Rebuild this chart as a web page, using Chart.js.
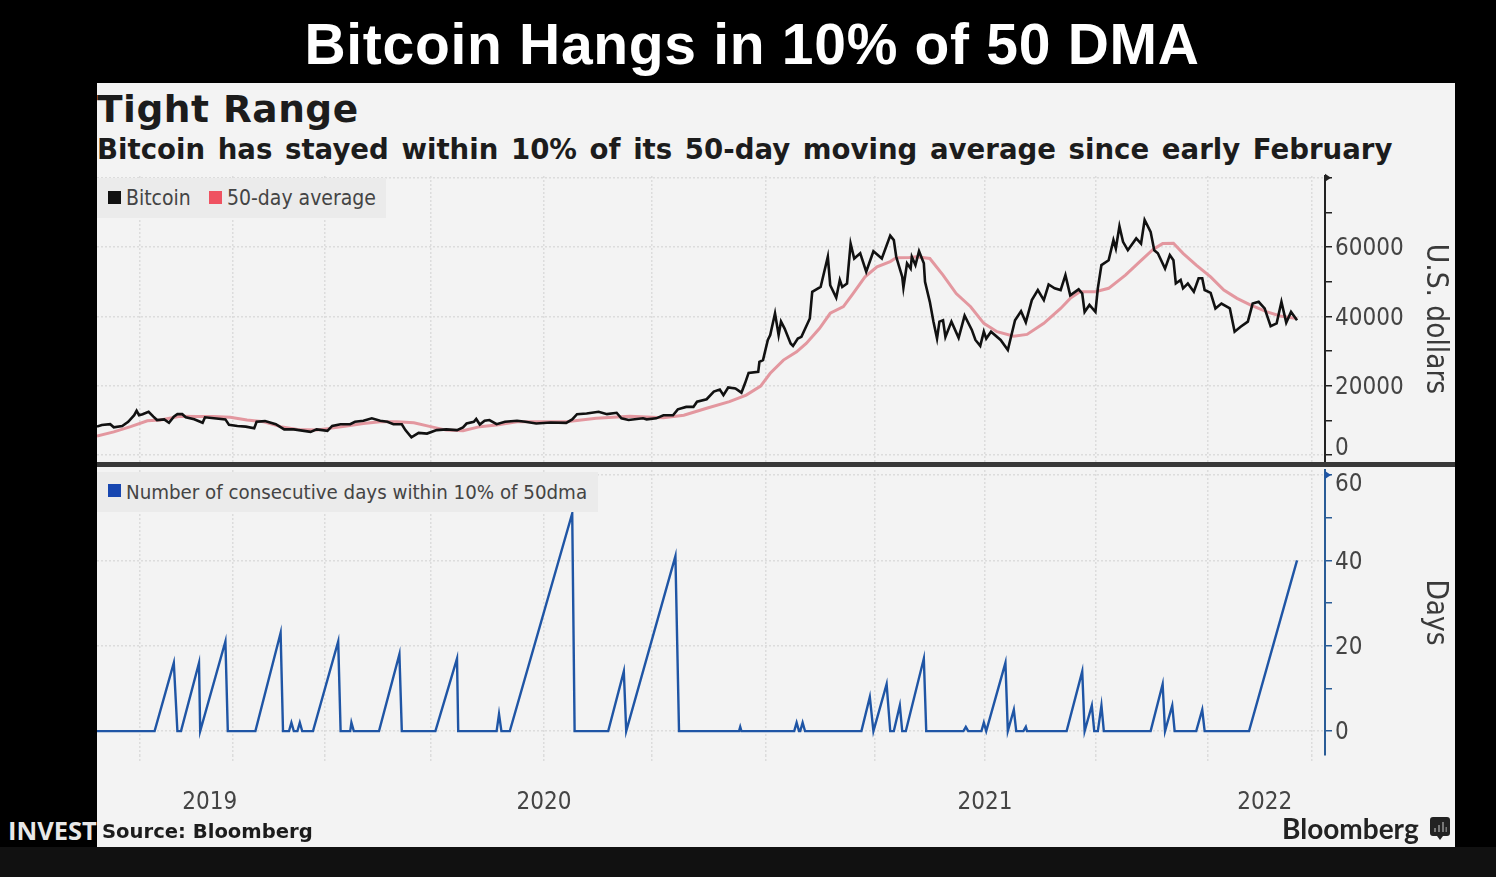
<!DOCTYPE html>
<html>
<head>
<meta charset="utf-8">
<title>Bitcoin Hangs in 10% of 50 DMA</title>
<script src="https://cdn.jsdelivr.net/npm/chart.js@4"></script>
<style>
  html, body { margin:0; padding:0; background:#000; width:1496px; height:877px; overflow:hidden; }
  .txt { position:absolute; white-space:nowrap; line-height:1; }
  .cond { font-family:"DejaVu Sans Condensed","DejaVu Sans",sans-serif; color:#444; }
  .heavy { font-family:"DejaVu Sans",sans-serif; font-weight:bold; color:#1c1c1c; }
  #strip { position:absolute; left:0; top:847px; width:1496px; height:30px; background:#111; }
  #panel { position:absolute; left:97px; top:83px; width:1358px; height:764px; background:#f3f3f3; }
  canvas { position:absolute; left:97px; }
  .legbox { position:absolute; left:97px; background:#ebebeb; }
  .sq { position:absolute; width:13px; height:13px; }
  #sep { position:absolute; left:97px; top:462px; width:1358px; height:5px; background:#383838; }
</style>
</head>
<body>
<div class="txt" style="left:8px;top:813px;font:bold 25.5px 'Open Sans',sans-serif;color:#e8e8e8">INVEST</div>
<div id="strip"></div>
<div id="panel"></div>
<div class="txt" id="mainTitle" style="left:752px;top:11px;transform:translateX(-50%);font:bold 57px 'Liberation Sans',sans-serif;letter-spacing:0.7px;color:#fff">Bitcoin Hangs in 10% of 50 DMA</div>
<div class="txt heavy" style="left:97px;top:91px;font-size:37.5px;letter-spacing:0.5px">Tight Range</div>
<div class="txt heavy" style="left:97px;top:135.5px;font-size:27.6px;word-spacing:3px">Bitcoin has stayed within 10% of its 50-day moving average since early February</div>

<canvas id="priceChart" width="1358" height="296" style="top:170px"></canvas>
<canvas id="runChart" width="1358" height="385" style="top:462px"></canvas>
<div id="sep"></div>

<div class="legbox" style="top:178px;width:289px;height:40px"></div>
<div class="sq" style="left:108px;top:191px;background:#111"></div>
<div class="txt cond" style="left:126px;top:188px;font-size:21px">Bitcoin</div>
<div class="sq" style="left:209px;top:191px;background:#ef5261"></div>
<div class="txt cond" style="left:227px;top:188px;font-size:21px">50-day average</div>

<div class="legbox" style="top:472px;width:501px;height:40px"></div>
<div class="sq" style="left:108px;top:484px;background:#1746b0"></div>
<div class="txt cond" style="left:126px;top:482px;font-size:20.3px">Number of consecutive days within 10% of 50dma</div>

<div class="txt heavy" style="left:102px;top:822px;font-size:19.6px">Source: Bloomberg</div>
<div class="txt" style="left:1282px;top:811px;font:bold 28px 'Lato',sans-serif;color:#222">Bloomberg</div>
<svg style="position:absolute;left:1430px;top:817px" width="20" height="23" viewBox="0 0 20 23">
  <path d="M3 0H17A3 3 0 0 1 20 3V16A3 3 0 0 1 17 19H13L10 23L7 19H3A3 3 0 0 1 0 16V3A3 3 0 0 1 3 0Z" fill="#222"/>
  <path d="M4 15V11H6V15ZM8 15V8H10V15ZM12 15V5H14V15ZM15.5 15V10H17V15Z" fill="#777"/>
</svg>

<script>
// days counted from the left edge of the chart
const btcDay = [
  0,4,11,14,21,26,31,33,35,38,
  43,47,50,56,60,64,67,71,74,81,
  88,90,107,110,117,124,131,133,140,149,
  156,164,178,183,192,196,203,211,215,222,
  229,236,242,247,254,257,262,268,275,283,
  291,300,305,308,314,316,319,323,327,333,
  340,350,357,366,378,391,396,400,408,418,
  425,433,437,443,455,458,466,472,480,484,
  491,497,500,508,514,519,522,526,532,537,
  540,543,551,552,555,559,561,565,568,570,
  573,578,580,584,587,594,596,603,609,611,
  616,619,621,625,627,628,631,636,641,647,
  654,661,664,666,671,672,675,678,679,682,
  685,689,690,694,697,700,702,705,707,712,
  718,723,729,732,736,739,741,745,753,759,
  765,770,774,779,784,789,793,798,803,807,
  811,818,821,823,827,832,834,837,843,847,
  849,852,855,859,866,870,873,878,881,884,
  890,894,897,899,903,905,909,914,918,921,
  923,928,932,937,944,948,953,959,963,968,
  973,978,983,987,991,995,1000];
const btcPrice = [
  8200,8700,8900,8000,8400,9600,11500,12800,11500,11800,
  12500,11100,10100,10300,9300,11100,11800,11800,10900,10300,
  9300,10900,10300,8700,8400,8200,7700,9600,9800,8900,
  7400,7400,6700,7400,7000,8400,8900,8900,9600,9900,
  10600,9900,9600,8900,8900,7200,5100,6400,6200,7200,
  7400,7200,8000,9100,9600,10400,8800,9900,10100,8900,
  9600,9900,9600,9100,9400,9300,10300,11800,12000,12500,
  11800,12200,10600,10100,10600,10300,10600,11500,11500,13200,
  13900,13900,15400,16100,18300,18900,17300,19500,19200,18000,
  20700,23700,24000,26900,27400,33200,34600,40900,34600,38500,
  36500,32200,31500,33600,34100,39400,47100,48500,57200,49000,
  45400,50500,48500,49500,57200,61000,56700,58200,52900,58800,
  56700,63300,62000,57200,51400,48300,55300,53800,57200,54800,
  58800,55300,50000,44200,38500,33600,38500,38900,34100,38500,
  33800,40200,36100,33200,31500,35600,33600,35600,33200,30300,
  38900,41500,38300,44700,47600,44700,49200,48100,47600,51900,
  46100,47800,46600,41300,43300,41300,48100,54800,56200,62000,
  59600,66000,61500,59100,62500,61000,67800,64400,59100,58200,
  53800,57700,56200,49500,50500,48100,49500,47100,51000,51000,
  47600,46800,42300,43700,42300,35600,37000,38500,43700,44200,
  42300,37200,38000,44200,38200,41300,38900];

const avgDay = [
  0,14,28,42,53,69,83,97,111,125,
  139,153,167,183,194,208,222,236,250,264,
  278,291,305,319,333,350,366,391,416,444,
  472,489,508,527,541,553,561,572,583,591,
  602,611,622,630,640,650,661,666,677,683,
  694,705,716,728,739,750,764,775,789,803,
  811,819,832,843,857,869,880,888,897,905,
  916,928,939,950,961,975,986,1000];
const avgPrice = [
  5500,6700,8200,9900,10100,11200,11100,11100,10900,10100,
  9600,8200,7400,7200,7700,8400,9100,9600,9600,9300,
  8200,7200,7000,8200,8700,9600,9600,9600,10600,11200,
  10800,11500,13500,15400,17300,19900,23600,27400,29800,32200,
  36500,40900,42800,46600,51400,54300,55800,56900,57000,57200,
  56700,51900,46600,42800,38000,35600,34300,34800,38000,42300,
  45200,47100,47100,48100,51900,55800,59300,61000,61100,58200,
  54800,51400,47600,45200,43300,41300,40100,39400];

const runDay = [
  0,48,64,67,70,85,86,107,109,132,153,155,160,162,164,167,169,171,180,201,
  203,211,212,214,235,252,254,282,300,301,333,335,337,344,396,398,426,439,441,482,485,
  535,536,537,581,583,585,586,588,590,637,644,647,658,661,664,669,671,674,689,691,
  722,724,726,737,739,741,757,759,764,766,772,774,775,808,821,823,829,831,834,837,839,
  878,888,890,896,898,916,921,923,960,1000];
const runCount = [
  0,0,16,0,0,16,0,21,0,0,23,0,0,2,0,0,2,0,0,21,
  0,0,2,0,0,18,0,0,17,0,0,4,0,0,51,0,0,14,0,41,0,
  0,1,0,0,2,0,0,2,0,0,8,0,11,0,0,6,0,0,17,0,
  0,1,0,0,2,0,16,0,5,0,0,1,0,0,14,0,6,0,0,6,0,
  0,11,0,6,0,0,5,0,0,40];

const gridDays = [36,113,190,278,372,462,557,648,740,832,926,1012];
const yearLabels = ['2019','2020','2021','2022'];
const yearDays = [94,372.5,740,973];
const priceTicks = [0,10000,20000,30000,40000,50000,60000,70000,80000];
const priceLabelled = [0,20000,40000,60000];
const runTicks = [0,10,20,30,40,50,60];
const runLabelled = [0,20,40,60];

const xMax = 1023.3;
const gridColor = '#dcdcdc';
const labelFont = "'DejaVu Sans Condensed','DejaVu Sans',sans-serif";

function points(xs, ys) {
  return xs.map((x, i) => ({x: x, y: ys[i]}));
}

// small flag at the top of each value axis
const axisFlag = {
  id: 'axisFlag',
  afterDraw(chart, args, opts) {
    const y = chart.scales.y.getPixelForValue(opts.value);
    const x = chart.chartArea.right;
    const c = chart.ctx;
    c.save();
    c.fillStyle = opts.color;
    c.beginPath();
    c.moveTo(x, y - 4);
    c.lineTo(x + 6, y);
    c.lineTo(x, y + 4);
    c.fill();
    c.restore();
  }
};

function xAxis(showLabels) {
  return {
    type: 'linear',
    min: 0,
    max: xMax,
    afterBuildTicks: s => {
      const list = gridDays.map(v => ({value: v}));
      if (showLabels) yearDays.forEach(v => list.push({value: v + 0.01}));
      s.ticks = list;
    },
    afterFit: s => { s.height = showLabels ? 92 : 0; },
    grid: {
      color: c => (c.tick && gridDays.includes(c.tick.value) ? gridColor : 'transparent'),
      tickColor: c => (c.tick && gridDays.includes(c.tick.value) ? gridColor : 'transparent'),
      drawTicks: showLabels,
      tickLength: 8,
      tickBorderDash: [2, 2],
      lineWidth: 1.5
    },
    border: { display: false, dash: [2, 2] },
    ticks: {
      display: showLabels,
      autoSkip: false,
      maxRotation: 0,
      padding: 25,
      color: '#444',
      font: { family: labelFont, size: 24 },
      callback: v => {
        const i = yearDays.indexOf(Math.round((v - 0.01) * 100) / 100);
        return i >= 0 ? yearLabels[i] : '';
      }
    }
  };
}

// a two line tick label with one blank line moves the text off its tick
function shifted(text, shift) {
  return shift > 0 ? ['', text] : [text, ''];
}

function yAxis(cfg) {
  return {
    position: 'right',
    min: cfg.min,
    max: cfg.max,
    afterBuildTicks: s => { s.ticks = cfg.ticks.map(v => ({value: v})); },
    afterFit: s => { s.width = 130; s.paddingTop = 0; s.paddingBottom = 0; },
    grid: {
      color: c => (c.tick && cfg.gridAt.includes(c.tick.value) ? gridColor : 'transparent'),
      tickColor: cfg.color,
      tickLength: 7,
      lineWidth: 1.5
    },
    border: { color: cfg.color, width: 2, dash: [2, 2] },
    ticks: {
      padding: 3,
      color: '#444',
      font: c => ({ family: labelFont, size: 24, lineHeight: (c.tick ? Math.abs(cfg.shift(c.tick.value)) * 2 : 4) + 'px' }),
      callback: v => (cfg.labelled.includes(v) ? shifted(String(v), cfg.shift(v)) : '')
    },
    title: {
      display: true,
      text: cfg.title,
      color: '#3a3a3a',
      font: { family: labelFont, size: 29.5 },
      padding: { top: 3, bottom: 3 }
    }
  };
}

new Chart(document.getElementById('priceChart'), {
  type: 'line',
  data: {
    datasets: [
      { label: '50-day average', data: points(avgDay, avgPrice), borderColor: '#e3979f', borderWidth: 3, pointRadius: 0, tension: 0 },
      { label: 'Bitcoin', data: points(btcDay, btcPrice), borderColor: '#111', borderWidth: 2.6, pointRadius: 0, tension: 0, order: -1 }
    ]
  },
  options: {
    responsive: false,
    animation: false,
    layout: { padding: { top: 6, bottom: 4 } },
    plugins: {
      legend: { display: false },
      tooltip: { enabled: false },
      axisFlag: { value: 80000, color: '#222' }
    },
    scales: {
      x: xAxis(false),
      y: yAxis({
        min: -2000, max: 80500, ticks: priceTicks, gridAt: priceLabelled.concat([80000]),
        labelled: priceLabelled, color: '#222', title: 'U.S. dollars',
        shift: v => (v === 0 ? -6 : 2)
      })
    }
  },
  plugins: [axisFlag]
});

new Chart(document.getElementById('runChart'), {
  type: 'line',
  data: {
    datasets: [
      { label: 'Number of consecutive days within 10% of 50dma', data: points(runDay, runCount), borderColor: '#1f55a5', borderWidth: 2.4, pointRadius: 0, tension: 0 }
    ]
  },
  options: {
    responsive: false,
    animation: false,
    layout: { padding: { top: 8 } },
    plugins: {
      legend: { display: false },
      tooltip: { enabled: false },
      axisFlag: { value: 60, color: '#1f55a5' }
    },
    scales: {
      x: xAxis(true),
      y: yAxis({
        min: -5.6, max: 61.2, ticks: runTicks, gridAt: runLabelled,
        labelled: runLabelled, color: '#2a5c96', title: 'Days',
        shift: v => (v === 60 ? 10 : 2)
      })
    }
  },
  plugins: [axisFlag]
});
</script>
</body>
</html>
